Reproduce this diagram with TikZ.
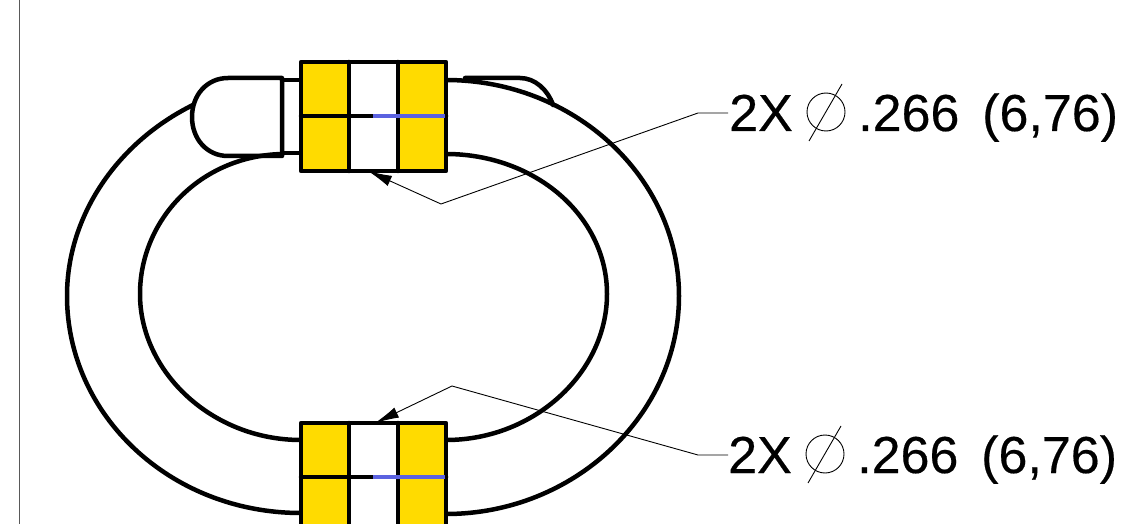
\documentclass[tikz,border=0pt]{standalone}
\usepackage{fontspec}
\setmainfont[FakeBold=0.35]{Liberation Sans}
\usetikzlibrary{arrows.meta}
\definecolor{gold}{HTML}{FFDB00}
\definecolor{slot}{HTML}{5B62E0}
\tikzset{
  wall/.style={draw=black,line width=4.5pt,line cap=round,line join=round},
  cell/.style={fill=gold,draw=none},
  leader/.style={draw=black,line width=0.9pt},
  lead/.style={leader,-{Latex[length=24pt,width=11pt]}},
  dim/.style={inner sep=0pt,anchor=base west,font=\fontsize{52}{52}\selectfont},
}
\begin{document}
\begin{tikzpicture}[x=1pt,y=-1pt]
\useasboundingbox (0,0) rectangle (1125,524);
\clip (0,0) rectangle (1125,524);
\draw[draw=black!65,line width=1pt] (19,0) -- (19,524);
% ring
\draw[wall] (446,80) .. controls (574,80) and (679,177) .. (679,296) .. controls (679,415) and (574,514) .. (446,514);
\draw[wall] (301,513) .. controls (170,513) and (67,415) .. (67,296) .. controls (67,215) and (118,142) .. (193,105);
\draw[wall] (446,154) .. controls (535,154) and (607,216) .. (607,294) .. controls (607,372) and (535,440) .. (446,440);
\draw[wall] (301,440) .. controls (212,440) and (140,372) .. (140,294) .. controls (140,220) and (200,156) .. (282,154);
% end caps
\draw[wall] (282,78) -- (228,78) .. controls (207,78) and (192,95) .. (192,117) .. controls (192,139) and (207,156) .. (228,156) -- (282,156) -- cycle;
\draw[wall] (282,80) -- (301,80) (282,153) -- (301,153);
\draw[wall] (465,78) -- (520,78) .. controls (535,78) and (548,90) .. (553,105);
% blocks
\foreach \n/\t in {top/62,bot/423}{
  \fill[cell] (301,\t) rectangle (349,\t+109);
  \fill[cell] (398,\t) rectangle (446,\t+109);
  \draw[wall] (301,\t) rectangle (446,\t+109);
  \draw[wall] (349,\t) -- (349,\t+109) (398,\t) -- (398,\t+109) (301,\t+54) -- (446,\t+54);
  \draw[draw=slot,line width=3.2pt] (373,\t+54) -- (445,\t+54);
}
\node[draw=none,inner sep=0pt,minimum width=145pt,minimum height=109pt] (blockA) at (373.5,116.5) {};
\node[draw=none,inner sep=0pt,minimum width=145pt,minimum height=109pt] (blockB) at (373.5,477.5) {};
% labels
\node[dim] (a2x) at (729,131) {2X};
\node[dim] (a266) at (858,131) {.266};
\node[dim] (amm) at (982,131) {(6,76)};
\node[dim] (b2x) at (728,473) {2X};
\node[dim] (b266) at (857,473) {.266};
\node[dim] (bmm) at (981,473) {(6,76)};
% diameter symbols
\foreach \n/\x/\y in {a/826/112,b/825/454}{
  \node[draw=black,circle,line width=0.9pt,minimum size=38pt,inner sep=0pt] (dia\n) at (\x,\y) {};
  \draw[leader] (\x+16,\y-28) -- (\x-17,\y+29);
}
% leaders
\coordinate (a1) at (728,113);
\coordinate (a2) at (698,113);
\coordinate (a3) at (441,204);
\coordinate (b1) at (728,455);
\coordinate (b2) at (698,455);
\coordinate (b3) at (452,386);
\draw[lead] (a1) -- (a2) -- (a3) -- (368,171);
\draw[lead] (b1) -- (b2) -- (b3) -- (375,423);
\end{tikzpicture}
\end{document}
